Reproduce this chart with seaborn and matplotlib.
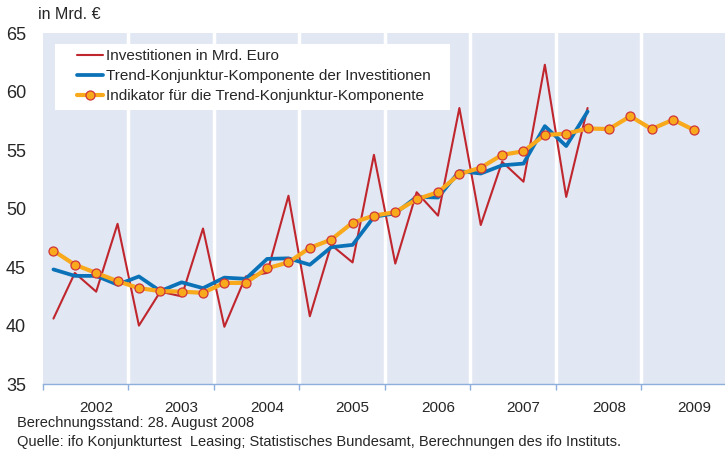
import matplotlib
matplotlib.use("Agg")
import matplotlib.pyplot as plt
import matplotlib.patches as mpatches
import seaborn as sns
import numpy as np

# Quartalswerte ab 2002Q1
years = ["2002", "2003", "2004", "2005", "2006", "2007", "2008", "2009"]
investitionen = [40.6, 44.5, 42.9, 48.7, 40.0, 42.9, 42.5, 48.3, 39.9, 44.2, 44.5, 51.1,
                 40.8, 46.9, 45.4, 54.6, 45.3, 51.4, 49.4, 58.6, 48.6, 54.0, 52.3, 62.3,
                 51.0, 58.6]
trend = [44.8, 44.25, 44.25, 43.5, 44.2, 42.95, 43.7, 43.2, 44.1, 44.0, 45.7, 45.75,
         45.2, 46.7, 46.9, 49.3, 49.6, 51.0, 50.95, 53.2, 53.0, 53.7, 53.85, 57.05,
         55.35, 58.3]
indikator = [46.4, 45.2, 44.5, 43.8, 43.2, 42.95, 42.9, 42.8, 43.65, 43.65, 44.9, 45.4,
             46.65, 47.35, 48.8, 49.4, 49.7, 50.8, 51.4, 52.95, 53.5, 54.6, 54.9, 56.3,
             56.4, 56.85, 56.8, 57.9, 56.8, 57.6, 56.7]
yticks = [35, 40, 45, 50, 55, 60, 65]

sns.set_style("white")
plt.rcParams["font.family"] = ["Liberation Sans", "DejaVu Sans"]

fig = plt.figure(figsize=(7.25, 4.54), dpi=100)
ax = fig.add_axes([0.059, 0.154, 0.943, 0.773])
ax.set_facecolor("#e1e8f3")

red = "#c0262e"
blue = "#0b72b8"
orange = "#f8a91c"

sns.lineplot(x=np.arange(len(investitionen)), y=investitionen, ax=ax, color=red,
             linewidth=1.5, label="Investitionen in Mrd. Euro", zorder=3)
sns.lineplot(x=np.arange(len(trend)), y=trend, ax=ax, color=blue,
             linewidth=2.7, label="Trend-Konjunktur-Komponente der Investitionen", zorder=4)
sns.lineplot(x=np.arange(len(indikator)), y=indikator, ax=ax, color=orange,
             linewidth=3.0, marker="o", markersize=6.5, markerfacecolor=orange,
             markeredgecolor="#d0343a", markeredgewidth=0.9,
             label="Indikator für die Trend-Konjunktur-Komponente", zorder=5)

# Jahresgrenzen
bounds = np.arange(len(years) + 1) * 4 - 0.5
for b in bounds[1:-1]:
    ax.axvline(b, color="white", linewidth=2.5, zorder=1)

ax.set_xlim(-0.5, len(years) * 4 - 0.5)
ax.set_ylim(35, 65)
ax.set_yticks(yticks)
ax.set_yticklabels([str(v) for v in yticks], fontsize=13)
ax.tick_params(axis="y", length=0, pad=12)

ax.set_xticks(bounds)
ax.set_xticklabels([""] * len(bounds))
ax.tick_params(axis="x", which="major", bottom=True, length=4, width=1,
               color="#8eaedb", direction="out")
ax.set_xticks(np.arange(len(years)) * 4 + 2, minor=True)
ax.set_xticklabels(years, minor=True, fontsize=11)
ax.tick_params(axis="x", which="minor", bottom=True, length=0, pad=12)

for s in ["top", "right", "left"]:
    ax.spines[s].set_visible(False)
ax.spines["bottom"].set_color("#8eaedb")
ax.spines["bottom"].set_linewidth(1)
ax.set_xlabel("")
ax.set_ylabel("")

# weisser Legendenkasten
ax.add_patch(mpatches.Rectangle((0.0176, 0.781), 0.578, 0.188, transform=ax.transAxes,
                                facecolor="white", edgecolor="none", zorder=6))
leg = ax.legend(loc="upper left", bbox_to_anchor=(0.0495, 0.955), fontsize=11,
                frameon=False, handlelength=1.7, handletextpad=0.2, borderpad=0,
                labelspacing=0.4, borderaxespad=0)
leg.set_zorder(7)

fig.text(0.052, 0.967, "in Mrd. €", fontsize=11.5, va="center", ha="left")
fig.text(0.024, 0.068, "Berechnungsstand: 28. August 2008", fontsize=10.5, va="center")
fig.text(0.024, 0.027, "Quelle: ifo Konjunkturtest  Leasing; Statistisches Bundesamt, Berechnungen des ifo Instituts.",
         fontsize=10.5, va="center")

fig.savefig("out.png", dpi=100)
